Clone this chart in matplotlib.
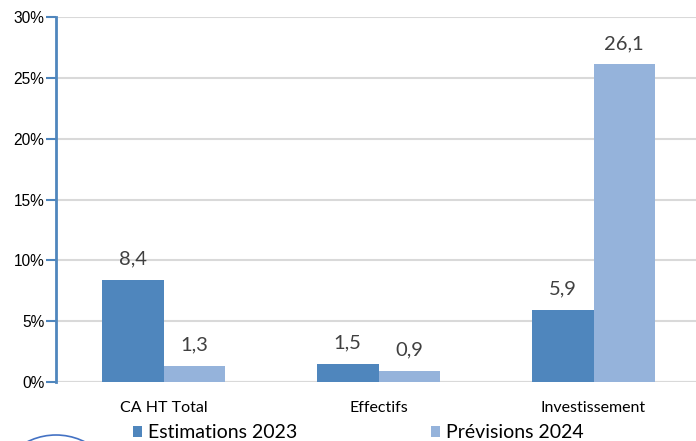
import matplotlib
matplotlib.use("Agg")
import matplotlib.pyplot as plt
from matplotlib.patches import Ellipse
import numpy as np

categories = ["CA HT Total", "Effectifs", "Investissement"]
series_names = ["Estimations 2023", "Prévisions 2024"]
estimations_2023 = [8.4, 1.5, 5.9]
previsions_2024 = [1.3, 0.9, 26.1]
yticks = [0, 5, 10, 15, 20, 25, 30]

c_dark = "#4F86BD"
c_light = "#95B3DB"

W, H = 696, 441
fig = plt.figure(figsize=(W / 100, H / 100), dpi=100)
left, right, top, bottom = 56, 701, 17, 382
ax = fig.add_axes([left / W, 1 - bottom / H, (right - left) / W, (bottom - top) / H])

x = np.arange(len(categories))
bw = 0.286
b1 = ax.bar(x - bw / 2, estimations_2023, bw, color=c_dark, label=series_names[0], zorder=3)
b2 = ax.bar(x + bw / 2, previsions_2024, bw, color=c_light, label=series_names[1], zorder=3)

for bars, vals in ((b1, estimations_2023), (b2, previsions_2024)):
    for r, v in zip(bars, vals):
        ax.annotate(f"{v:.1f}".replace(".", ","), (r.get_x() + r.get_width() / 2, v),
                    xytext=(0, 9), textcoords="offset points", ha="center", va="bottom",
                    fontsize=14.5, color="#404040", family="Lato")

ax.set_xlim(-0.5, 2.5)
ax.set_ylim(0, 30)
ax.set_yticks(yticks)
ax.set_yticklabels([f"{t}%" for t in yticks], family="Liberation Sans", fontsize=11.2, color="#000000")
ax.set_xticks(x)
ax.set_xticklabels(categories, family="Lato", fontsize=11.5, color="#000000")
ax.tick_params(axis="x", length=0, pad=14)
ax.tick_params(axis="y", length=7, width=1.5, color=c_dark, pad=1.5)
ax.yaxis.grid(True, color="#D9D9D9", linewidth=1.5, zorder=0)
for s in ["top", "right", "bottom"]:
    ax.spines[s].set_visible(False)
ax.spines["left"].set_color(c_dark)
ax.spines["left"].set_linewidth(2)
ax.axhline(0, color="#D9D9D9", linewidth=1.5, zorder=1)

leg = fig.legend(handles=[b1, b2], labels=series_names, loc="center left",
                 bbox_to_anchor=(133 / W, 1 - 433 / H), ncol=2, frameon=False,
                 prop={"family": "Lato", "size": 14}, handlelength=0.45, handleheight=0.45,
                 handletextpad=0.3, columnspacing=6.9, borderaxespad=0, borderpad=0)

# partial logo circle at bottom-left
circ = Ellipse((56 / W, 1 - 499 / H), 128 / W, 128 / H, transform=fig.transFigure,
               fill=False, edgecolor="#4472C4", linewidth=1.2)
fig.patches.append(circ)

fig.savefig("out.png", dpi=100)
